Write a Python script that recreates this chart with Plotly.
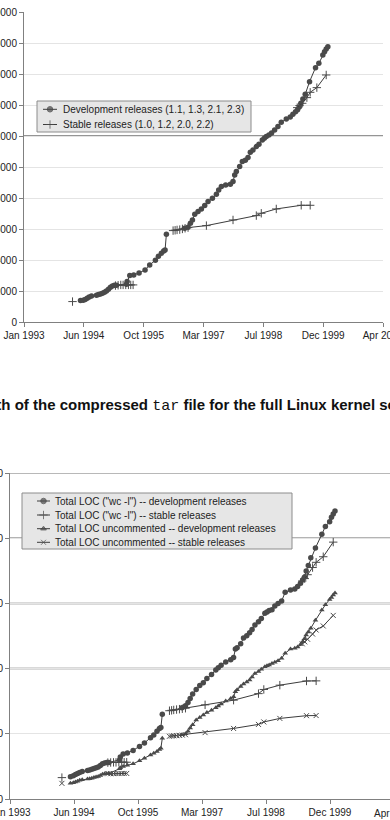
import pandas as pd
import plotly.graph_objects as go

# ---------------- data ----------------
# release dates as decimal years; None marks a break between release branches
dev_year = [1994.376, 1994.437, 1994.483, 1994.529, 1994.574, 1994.628, 1994.742, 1994.788, 1994.833,
            1994.879, 1994.925, 1994.970, 1995.016, 1995.062, 1995.107, 1995.153, 1995.199,
            1995.427, 1995.443, 1995.504, 1995.595, 1995.717, 1995.854, 1995.960, 1996.090, 1996.159,
            1996.227, 1996.280, 1996.311, 1996.341,
            None,
            1996.760, 1996.836, 1996.890, 1996.936, 1996.989, 1997.065, 1997.141, 1997.217, 1997.294,
            1997.393, 1997.484, 1997.537, 1997.598, 1997.697, 1997.804, 1997.865, 1997.903, 1997.941,
            1998.017, 1998.078, 1998.147, 1998.208, 1998.261, 1998.322, 1998.398, 1998.459, 1998.535,
            1998.581, 1998.627, 1998.687, 1998.748, 1998.817, 1998.893, 1998.969, 1999.084, 1999.175,
            1999.236, 1999.297, 1999.343, 1999.381,
            1999.419, 1999.464, 1999.518, 1999.617, 1999.754, 1999.830, 1999.921, 1999.960, 1999.998, 2000.036]
dev_kb = [1381, 1403, 1446, 1532, 1618, 1682, 1726, 1769, 1812, 1855, 1919, 2005, 2113, 2242, 2328, 2371, 2371,
          2435, 2607, 2994, 3037, 3166, 3360, 3682, 3983, 4241, 4434, 4585, 4650, 5660,
          None,
          6047, 6111, 6369, 6585, 6950, 7122, 7294, 7509, 7767, 7982, 8240, 8520, 8735, 8842, 8885, 9057,
          9487, 9702, 10025, 10347, 10433, 10605, 10949, 11100, 11315, 11465, 11745, 11852, 11960, 12067,
          12196, 12390, 12605, 12884, 13099, 13228, 13400, 13572, 13701, 13873,
          14110, 14389, 14690, 15507, 16410, 16690, 17227, 17442, 17614, 17764]
dev_loc_k = [171, 178, 187, 195, 203, 210, 218, 222, 228, 233, 239, 246, 256, 270, 277, 279, 280,
             300, 322, 345, 353, 372, 402, 430, 470, 490, 520, 540, 548, 650,
             None,
             700, 715, 740, 770, 805, 840, 870, 892, 925, 955, 990, 1007, 1025, 1050, 1068, 1085,
             1150, 1160, 1190, 1235, 1252, 1275, 1300, 1334, 1360, 1385, 1424, 1435, 1445, 1452,
             1480, 1500, 1518, 1585, 1603, 1610, 1630, 1655, 1680, 1700,
             1749, 1790, 1850, 1925, 2030, 2090, 2127, 2160, 2185, 2209]
dev_uloc_k = [120, 125, 130, 136, 143, 148, 153, 156, 160, 164, 168, 173, 180, 189, 193, 195, 196,
              232, 240, 250, 258, 270, 293, 312, 338, 350, 364, 380, 390, 465,
              None,
              492, 500, 520, 545, 570, 605, 625, 644, 663, 680, 700, 713, 728, 752, 770, 785,
              823, 838, 862, 882, 898, 912, 935, 962, 978, 995, 1015, 1022, 1028, 1040,
              1048, 1060, 1079, 1118, 1150, 1156, 1165, 1185, 1205, 1228,
              1258, 1280, 1310, 1370, 1450, 1490, 1530, 1545, 1565, 1580]

stable_year = [1994.193,
               None,
               1995.176, 1995.237, 1995.298, 1995.351, 1995.412, 1995.473, 1995.526, 1995.580,
               None,
               1996.494, 1996.540, 1996.585, 1996.646, 1996.707, 1996.768, 1996.836, 1997.255, 1997.865,
               1998.398, 1998.512, 1998.855, 1999.426, 1999.632,
               None,
               1999.335, 1999.388, 1999.449, 1999.556, 1999.632, 1999.784, 1999.998]
stable_kb = [1317,
             None,
             2349, 2371, 2392, 2392, 2392, 2392, 2392, 2392,
             None,
             5897, 5918, 5940, 5961, 6004, 6047, 6090, 6219, 6584, 6864, 7014, 7294, 7530, 7530,
             None,
             13830, 13959, 14110, 14475, 14819, 15120, 15937]
stable_loc_k = [164,
                None,
                279, 280, 281, 281, 281, 282, 282, 282,
                None,
                677, 680, 683, 686, 689, 692, 696, 722, 758, 808, 840, 873, 905, 906,
                None,
                1672, 1690, 1720, 1775, 1815, 1858, 1970]
stable_uloc_k = [120,
                 None,
                 194, 194, 195, 195, 195, 196, 196, 196,
                 None,
                 481, 483, 485, 486, 488, 490, 493, 509, 541, 572, 591, 618, 639, 640,
                 None,
                 1190, 1205, 1225, 1265, 1296, 1327, 1408]

tick_dates = ["1993-01-31", "1994-06-15", "1995-10-28", "1997-03-11", "1998-07-24", "1999-12-06", "2001-04-19"]
tick_text = ["Jan 1993", "Jun 1994", "Oct 1995", "Mar 1997", "Jul 1998", "Dec 1999", "Apr 2001"]

top_names = ["Development releases (1.1, 1.3, 2.1, 2.3)", "Stable releases (1.0, 1.2, 2.0, 2.2)"]
bottom_names = ['Total LOC ("wc -l") -- development releases',
                'Total LOC ("wc -l") -- stable releases',
                'Total LOC uncommented -- development releases',
                'Total LOC uncommented -- stable releases']
caption = ("<b>Growth of the compressed <span style='font-family:Liberation Mono, Courier New, monospace;"
           "font-weight:normal'>tar</span> file for the full Linux kernel source release</b>")

top_dark_grid = [12000]
bottom_mid_grid = [2500000]
bottom_dark_grid = [2000000, 1500000, 1000000]

# ---------------- styling / layout (pixels) ----------------
W, H = 390, 820
FONT = "Liberation Sans, Arial, sans-serif"
LINE = "#3c3c3c"
MK = "#4a4a4a"

styles = {
    "dev": dict(symbol="circle", size=5.5),
    "stable": dict(symbol="cross-thin", size=6),
    "udev": dict(symbol="triangle-up", size=5),
    "ustable": dict(symbol="x-thin", size=5),
}

# legend boxes: box (left, top, right, bottom), row centres, sample line span, text start
legend_top = dict(box=(37, 101, 251, 132), rows=[109.3, 124.5], line=(43, 57), text_x=61,
                  names=top_names, kinds=["dev", "stable"])
legend_bottom = dict(box=(22, 493, 292, 549), rows=[501, 515, 528.7, 542.3], line=(37, 50), text_x=53,
                     names=bottom_names, kinds=["dev", "stable", "udev", "ustable"])


# ---------------- helpers ----------------
def to_date(y):
    if y is None:
        return None
    yr = int(y)
    s = pd.Timestamp(year=yr, month=1, day=1)
    e = pd.Timestamp(year=yr + 1, month=1, day=1)
    return s + (e - s) * (y - yr)


def k(vals):
    return [None if v is None else v * 1000 for v in vals]


def marker(kind):
    st = styles[kind]
    if kind in ("stable", "ustable"):
        return dict(symbol=st["symbol"], size=st["size"], color=MK, line=dict(color=MK, width=1))
    return dict(symbol=st["symbol"], size=st["size"], color=MK)


dev_x = [to_date(v) for v in dev_year]
stable_x = [to_date(v) for v in stable_year]

fig = go.Figure()

series = [
    (dev_x, dev_kb, top_names[0], "dev", "x", "y"),
    (stable_x, stable_kb, top_names[1], "stable", "x", "y"),
    (dev_x, k(dev_loc_k), bottom_names[0], "dev", "x2", "y2"),
    (stable_x, k(stable_loc_k), bottom_names[1], "stable", "x2", "y2"),
    (dev_x, k(dev_uloc_k), bottom_names[2], "udev", "x2", "y2"),
    (stable_x, k(stable_uloc_k), bottom_names[3], "ustable", "x2", "y2"),
]
for xs, ys, name, kind, xa, ya in series:
    fig.add_trace(go.Scatter(x=xs, y=ys, name=name, mode="lines+markers",
                             line=dict(color=LINE, width=1), marker=marker(kind),
                             xaxis=xa, yaxis=ya, showlegend=False, hoverinfo="skip"))

# hand-drawn legends on a full-figure pixel overlay (x3/y3)
annotations = []
for lg in (legend_top, legend_bottom):
    l, t, r, b = lg["box"]
    fig.add_trace(go.Scatter(x=[l, r, r, l, l], y=[t, t, b, b, t], mode="lines", fill="toself",
                             fillcolor="#e6e6e6", line=dict(color="#8c8c8c", width=1),
                             xaxis="x3", yaxis="y3", showlegend=False, hoverinfo="skip"))
    x_a, x_b = lg["line"]
    for row, kind, name in zip(lg["rows"], lg["kinds"], lg["names"]):
        m = marker(kind)
        m["size"] = [0, styles[kind]["size"], 0]
        fig.add_trace(go.Scatter(x=[x_a, (x_a + x_b) / 2, x_b], y=[row, row, row], mode="lines+markers",
                                 line=dict(color=LINE, width=1), marker=m,
                                 xaxis="x3", yaxis="y3", showlegend=False, hoverinfo="skip"))
        annotations.append(dict(text=name, xref="paper", yref="paper", x=lg["text_x"] / W,
                                y=1 - row / H, xanchor="left", yanchor="middle", showarrow=False,
                                font=dict(family=FONT, size=10, color="#222")))

x0 = pd.Timestamp(tick_dates[0])
x1 = pd.Timestamp(tick_dates[-1])
# bottom axis spans 10..394 px; the window cuts it at 390 px
x1_bottom = x0 + (x1 - x0) * (380 / 384)

axis_common = dict(showline=True, linecolor="#808080", linewidth=1, ticks="outside", ticklen=4,
                   tickcolor="#808080", tickfont=dict(family=FONT, size=10, color="#222"),
                   zeroline=False, automargin=False, fixedrange=True, ticklabeloverflow="allow")

fig.update_layout(
    width=W, height=H, margin=dict(l=0, r=0, t=0, b=0, autoexpand=False),
    paper_bgcolor="white", plot_bgcolor="rgba(0,0,0,0)",
    font=dict(family=FONT, size=10, color="#222"),
    showlegend=False,
    xaxis=dict(domain=[24 / W, 383 / W], range=[x0, x1], tickvals=tick_dates, ticktext=tick_text,
               anchor="y", showgrid=False, **axis_common),
    yaxis=dict(domain=[1 - 322 / H, 1 - 12 / H], range=[0, 20000], dtick=2000, tickformat="d",
               anchor="x", showgrid=True, gridcolor="#e4e4e4", gridwidth=1, **axis_common),
    xaxis2=dict(domain=[10 / W, 1.0], range=[x0, x1_bottom], tickvals=tick_dates, ticktext=tick_text,
                anchor="y2", showgrid=False, **axis_common),
    yaxis2=dict(domain=[1 - 799 / H, 1 - 473 / H], range=[0, 2500000], dtick=500000, tickformat=",",
                anchor="x2", showgrid=True, gridcolor="#e4e4e4", gridwidth=1, **axis_common),
    xaxis3=dict(domain=[0, 1], range=[0, W], visible=False, anchor="y3", fixedrange=True),
    yaxis3=dict(domain=[0, 1], range=[H, 0], visible=False, anchor="x3", fixedrange=True),
)

shapes = []
for v in top_dark_grid:
    shapes.append(dict(type="line", xref="x domain", yref="y", x0=0, x1=1, y0=v, y1=v,
                       line=dict(color="#2a2a2a", width=1), layer="below"))
for v in bottom_mid_grid:
    shapes.append(dict(type="line", xref="x2 domain", yref="y2", x0=0, x1=1, y0=v, y1=v,
                       line=dict(color="#a0a0a0", width=1.5), layer="below"))
for v in bottom_dark_grid:
    shapes.append(dict(type="line", xref="x2 domain", yref="y2", x0=0, x1=1, y0=v, y1=v,
                       line=dict(color="#6a6a6a", width=1.5), layer="below"))
fig.update_layout(shapes=shapes)

annotations.append(dict(text=caption, xref="paper", yref="paper", x=-44 / W, y=1 - 405 / H,
                        xanchor="left", yanchor="middle", showarrow=False,
                        font=dict(family=FONT, size=15, color="#111")))
# tick label of the last bottom tick, which falls just outside the window
annotations.append(dict(text=tick_text[-1], xref="paper", yref="paper", x=394 / W, y=1 - 813 / H,
                        xanchor="center", yanchor="middle", showarrow=False,
                        font=dict(family=FONT, size=10, color="#222")))
fig.update_layout(annotations=annotations)

fig.write_html("out.html")
